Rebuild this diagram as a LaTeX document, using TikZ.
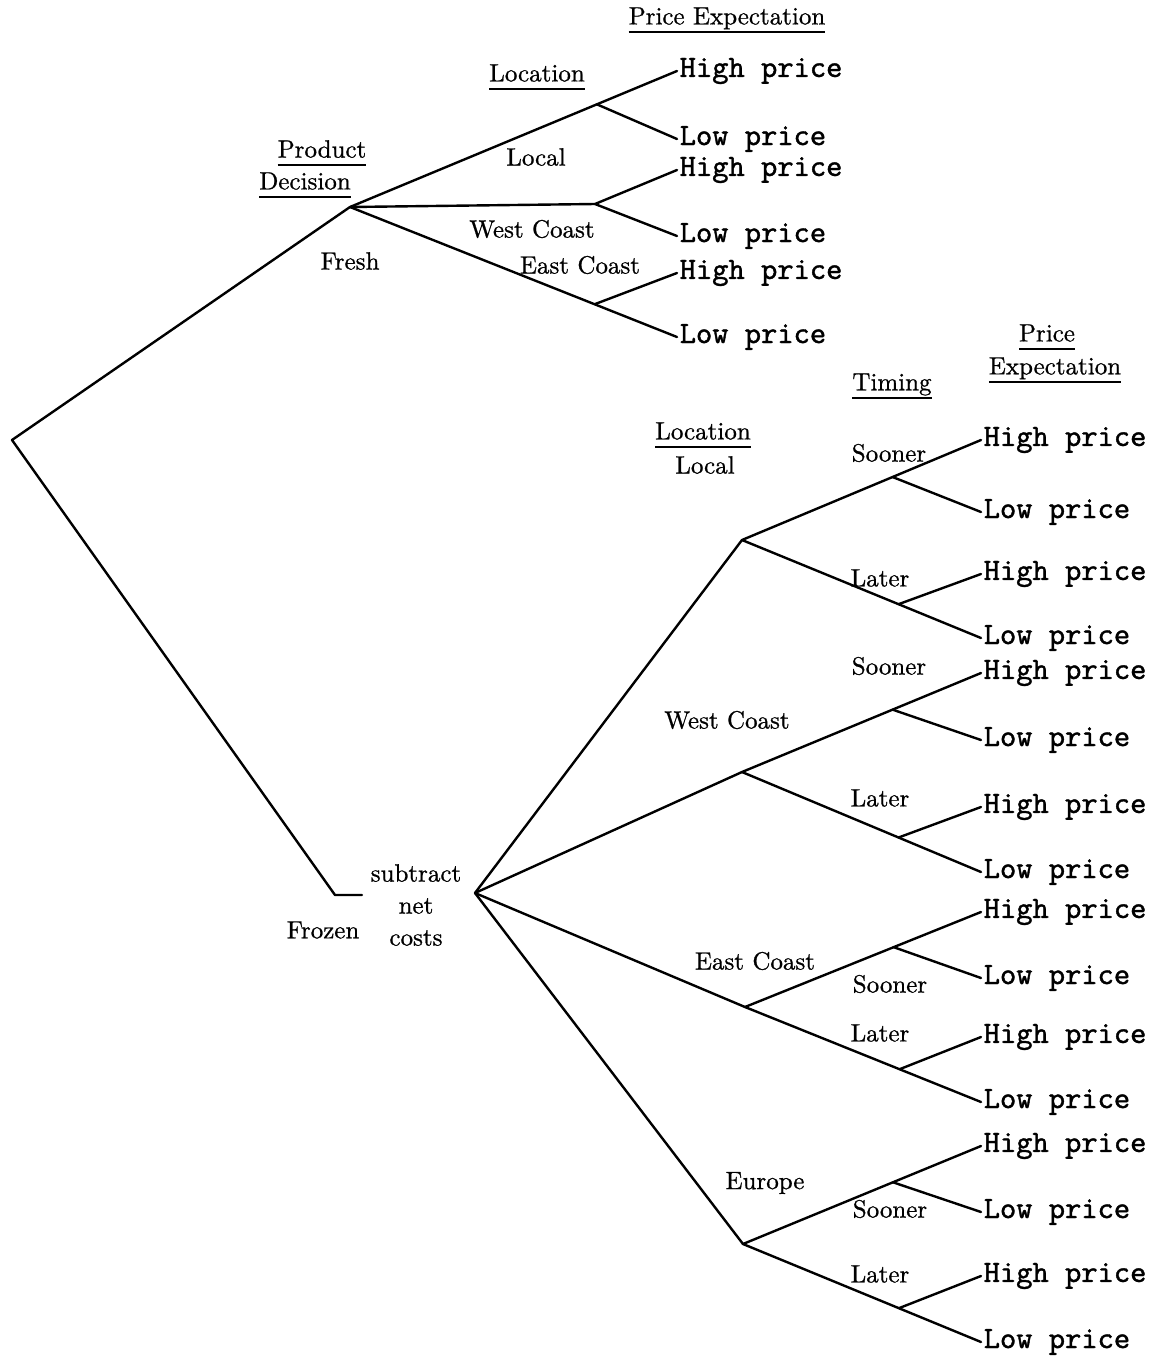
\documentclass[tikz,border=0pt]{standalone}
\usepackage{fontspec}
\newfontfamily\leaffont{lmmono10-regular.otf}[FakeBold=1.2]
\newfontfamily\labfont{lmroman10-regular.otf}[FakeBold=0.8]
\usetikzlibrary{calc}
\newcommand\ulx[1]{\begingroup\setbox0\hbox{#1}\leavevmode\copy0\llap{\rule[-0.33em]{\wd0}{1.8pt}}\endgroup}
\begin{document}
\begin{tikzpicture}[x=1pt,y=-1pt,
  every path/.style={line width=2.4pt, line join=round, line cap=round},
  leaf/.style={font=\fontsize{31}{31}\leaffont, anchor=west, inner sep=1.5pt},
  lab/.style={font=\fontsize{25}{32}\labfont, inner sep=0pt, align=center},
  head/.style={lab}]
\useasboundingbox (0,0) rectangle (1155,1358);
\fill[white] (0,0) rectangle (1155,1358);
% main decision
\coordinate (root) at (12,440);
\coordinate (fresh) at (350,207);
\coordinate (fzb) at (335,895);
\coordinate (fze) at (362,895);
\coordinate (S) at (475,893);
% fresh leaves
\node[leaf] (fh1) at (677,71) {High price};
\node[leaf] (fl1) at (677,139) {Low price};
\node[leaf] (fh2) at (677,170) {High price};
\node[leaf] (fl2) at (677,236) {Low price};
\node[leaf] (fh3) at (677,273) {High price};
\node[leaf] (fl3) at (677,337) {Low price};
\coordinate (fws) at (595,204);
% frozen location nodes
\coordinate (A) at (742,540);
\coordinate (B) at (742,772);
\coordinate (C) at (745,1007);
\coordinate (D) at (743,1244);
% frozen leaves
\node[leaf] (hA1) at (981,440) {High price};
\node[leaf] (lA1) at (981,512) {Low price};
\node[leaf] (hA2) at (981,574) {High price};
\node[leaf] (lA2) at (981,638) {Low price};
\node[leaf] (hB1) at (981,673) {High price};
\node[leaf] (lB1) at (981,740) {Low price};
\node[leaf] (hB2) at (981,807) {High price};
\node[leaf] (lB2) at (981,872) {Low price};
\node[leaf] (hC1) at (981,912) {High price};
\node[leaf] (lC1) at (981,978) {Low price};
\node[leaf] (hC2) at (981,1037) {High price};
\node[leaf] (lC2) at (981,1102) {Low price};
\node[leaf] (hD1) at (981,1146) {High price};
\node[leaf] (lD1) at (981,1212) {Low price};
\node[leaf] (hD2) at (981,1276) {High price};
\node[leaf] (lD2) at (981,1342) {Low price};
% connectors: root
\draw (fresh) -- (root) -- (fzb) -- (fze);
% fresh
\draw (fresh) -- (fh1.west);
\draw ($(fresh)!0.755!(fh1.west)$) coordinate (fls) -- (fl1.west);
\draw (fresh) -- (fws);
\draw (fws) -- (fh2.west);
\draw (fws) -- (fl2.west);
\draw (fresh) -- (fl3.west);
\draw ($(fresh)!0.748!(fl3.west)$) coordinate (fes) -- (fh3.west);
% frozen
\draw (S) -- (A); \draw (S) -- (B); \draw (S) -- (C); \draw (S) -- (D);
\foreach \n in {A,B,C,D}{
  \draw (\n) -- (h\n1.west);
  \draw ($(\n)!0.63!(h\n1.west)$) -- (l\n1.west);
  \draw (\n) -- (l\n2.west);
  \draw ($(\n)!0.655!(l\n2.west)$) -- (h\n2.west);
}
% labels
\node[head] (pe1) at (727,20) {\ulx{Price Expectation}};
\node[head] (loc1) at (537,77) {\ulx{Location}};
\node[head] (prod) at (322,153) {\ulx{Product}};
\node[head] (dec) at (305,185) {\ulx{Decision}};
\node[lab] (tlocal) at (536,157) {Local};
\node[lab] (twest) at (532,229) {West Coast};
\node[lab] (teast) at (580,265) {East Coast};
\node[lab] (tfresh) at (350,261) {Fresh};
\node[lab] (tfrozen) at (323,930) {Frozen};
\node[lab] (tsub) at (416,905) {subtract\\net\\costs};
\node[head] (ttim) at (892,386) {\ulx{Timing}};
\node[head] (tpr) at (1047,337) {\ulx{Price}};
\node[head] (texp) at (1055,370) {\ulx{Expectation}};
\node[head] (loc2) at (703,435) {\ulx{Location}};
\node[lab] (tloc2) at (705,465) {Local};
\node[lab] (s1) at (889,453) {Sooner};
\node[lab] (l1) at (880,578) {Later};
\node[lab] (s2) at (889,666) {Sooner};
\node[lab] (tw2) at (727,720) {West Coast};
\node[lab] (l2) at (880,798) {Later};
\node[lab] (te2) at (755,961) {East Coast};
\node[lab] (s3) at (890,984) {Sooner};
\node[lab] (l3) at (880,1033) {Later};
\node[lab] (teu) at (765,1183) {Europe};
\node[lab] (s4) at (890,1209) {Sooner};
\node[lab] (l4) at (880,1274) {Later};
\end{tikzpicture}
\end{document}
